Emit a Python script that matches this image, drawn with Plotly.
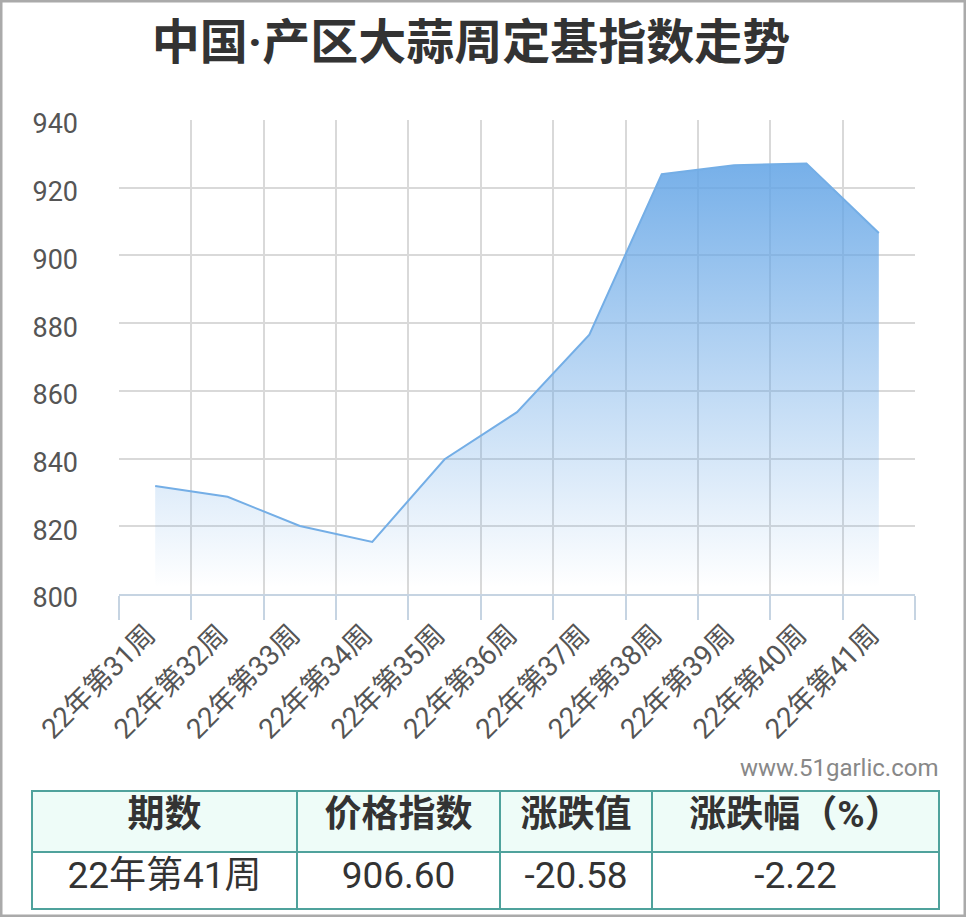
import plotly.graph_objects as go

# ---- data ----
weeks = ["22年第31周", "22年第32周", "22年第33周", "22年第34周", "22年第35周", "22年第36周",
         "22年第37周", "22年第38周", "22年第39周", "22年第40周", "22年第41周"]
index_values = [831.9, 828.7, 820.1, 815.4, 839.8, 853.7, 876.6, 924.0, 926.6, 927.18, 906.60]
y_ticks = [800, 820, 840, 860, 880, 900, 920, 940]

table_header = ["期数", "价格指数", "涨跌值", "涨跌幅（%）"]
table_row = ["22年第41周", "906.60", "-20.58", "-2.22"]

W, H = 966, 917
FONT = "Roboto, 'Noto Sans CJK SC', sans-serif"

fig = go.Figure()

fig.add_trace(go.Scatter(
    x=weeks, y=index_values, mode="lines",
    line=dict(color="#74AEE6", width=2),
    fill="tozeroy",
    fillgradient=dict(type="vertical", start=802, stop=927.2,
                      colorscale=[[0, "rgba(100,165,230,0)"], [1, "rgba(100,165,230,0.88)"]]),
    hoverinfo="x+y", showlegend=False,
))

fig.add_trace(go.Table(
    domain=dict(x=[32 / W, 939 / W], y=[1 - 910 / H, 1 - 791 / H]),
    columnwidth=[265, 203, 152, 287],
    header=dict(values=[[v] for v in table_header],
                fill_color="#EEFCF8",
                line=dict(color="#4FA29C", width=2.5),
                font=dict(family=FONT, size=37, color="#333333", weight="bold"),
                align="center", height=61),
    cells=dict(values=[[v] for v in table_row],
               fill_color="#FFFFFF",
               line=dict(color="#4FA29C", width=2.5),
               font=dict(family=FONT, size=37, color="#333333"),
               align="center", height=57),
))

fig.update_layout(
    width=W, height=H,
    margin=dict(l=0, r=0, t=0, b=0),
    paper_bgcolor="white", plot_bgcolor="white",
    font=dict(family=FONT, color="#555555"),
    title=dict(text="中国·产区大蒜周定基指数走势", x=471 / W, y=1 - 42 / H,
               xanchor="center", yanchor="middle", xref="paper", yref="paper",
               font=dict(family=FONT, size=48, color="#333333", weight="bold")),
    xaxis=dict(domain=[119 / W, 915 / W], type="category", range=[-0.5, 10.5],
               tickson="boundaries", showgrid=True, gridcolor="#D9D9D9", gridwidth=2,
               showline=True, linecolor="#C6D4E2", linewidth=2,
               ticks="outside", ticklen=24, tickwidth=2, tickcolor="#C6D4E2",
               tickangle=-45, tickfont=dict(size=28, color="#555555"),
               ticklabelstandoff=11, ticklabelshift=-8,
               automargin=False, zeroline=False, fixedrange=True),
    yaxis=dict(domain=[1 - 594 / H, 1 - 120 / H], range=[800, 940],
               tickvals=y_ticks, showgrid=True, gridcolor="#D9D9D9", gridwidth=2,
               showline=False, zeroline=False, ticks="",
               ticklabelstandoff=40, ticklabelshift=4,
               tickfont=dict(size=27, color="#555555"),
               automargin=False, fixedrange=True),
    annotations=[dict(text="www.51garlic.com", x=940 / W, y=1 - 768 / H,
                      xref="paper", yref="paper", xanchor="right", yanchor="middle",
                      showarrow=False, font=dict(family=FONT, size=24, color="#888888"))],
    shapes=[dict(type="rect", xref="paper", yref="paper", x0=0, y0=0, x1=1, y1=1,
                 line=dict(color="#AAAAAA", width=5), fillcolor="rgba(0,0,0,0)", layer="above")],
)

fig.write_html("out.html", config={"displayModeBar": False},
               post_script="document.body.style.margin='0';document.body.style.overflow='hidden';")
